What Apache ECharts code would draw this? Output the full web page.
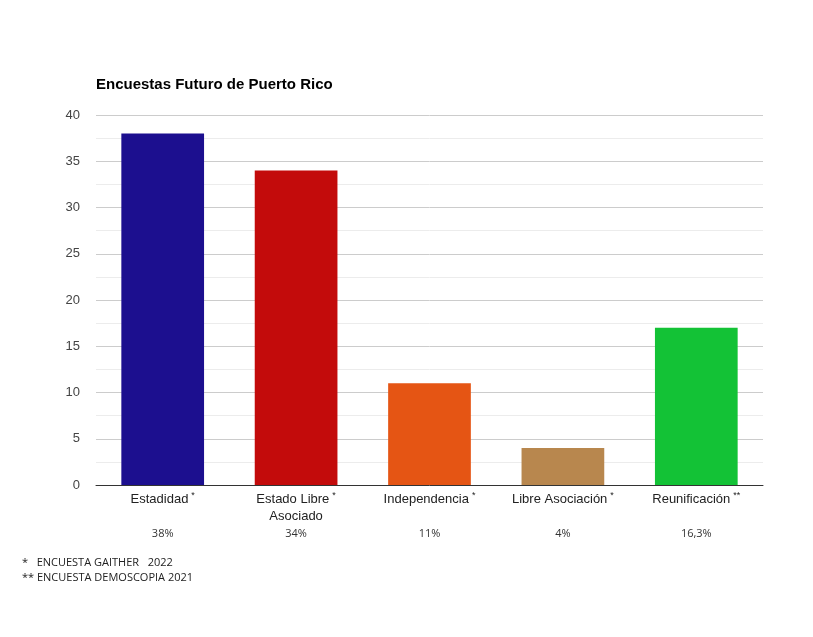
<!DOCTYPE html>
<html><head><meta charset="utf-8">
<script src="https://cdn.jsdelivr.net/npm/echarts@6/dist/echarts.min.js"></script>
<style>html,body{margin:0;padding:0;background:#fff}#c{width:813px;height:637px}</style>
</head><body><div id="c"></div>
<script>
const categories = ['Estadidad', 'Estado Libre\nAsociado', 'Independencia', 'Libre Asociación', 'Reunificación'];
const marks = ['*', '*', '*', '*', '**'];
const values = [38, 34, 11, 4, 17];
const percentLabels = ['38%', '34%', '11%', '4%', '16,3%'];
const colors = ['#1c0f8f', '#c30b0b', '#e55514', '#b8874e', '#13c236'];
const notes = ['*   ENCUESTA GAITHER   2022', '** ENCUESTA DEMOSCOPIA 2021'];

const chart = echarts.init(document.getElementById('c'));
chart.setOption({
  backgroundColor: '#fff',
  animation: false,
  title: { text: 'Encuestas Futuro de Puerto Rico', left: 91, top: 72,
    textStyle: { fontFamily: 'Arial', fontSize: 15, fontWeight: 'bold', color: '#000' } },
  grid: { left: 96, right: 50, top: 115, bottom: 152 },
  xAxis: [{
    type: 'category', data: categories,
    axisLine: { lineStyle: { color: '#333', width: 1 } },
    axisTick: { show: false },
    axisLabel: { margin: 6, interval: 0,
      formatter: (v, i) => {
        const parts = v.split('\n');
        return parts.map((p, k) => k === 0 ? '{n|' + p + '}{s|' + marks[i] + '}' : '{n|' + p + '}').join('\n');
      },
      rich: {
        n: { fontFamily: 'Arial', fontSize: 13, color: '#222', lineHeight: 17 },
        s: { fontFamily: 'Arial', fontSize: 9, color: '#222', verticalAlign: 'top', padding: [0, 0, 8, 3], lineHeight: 17 }
      } }
  }, {
    type: 'category', data: percentLabels, position: 'bottom', offset: 35,
    axisLine: { show: false }, axisTick: { show: false },
    axisLabel: { interval: 0, fontFamily: 'Open Sans', fontSize: 11, color: '#333' }
  }],
  yAxis: {
    type: 'value', min: 0, max: 40, interval: 5,
    axisLine: { show: false }, axisTick: { show: false },
    axisLabel: { fontFamily: 'Arial', fontSize: 13, color: '#444', margin: 16 },
    splitLine: { lineStyle: { color: '#cccccc' } },
    minorTick: { show: false, splitNumber: 2 },
    minorSplitLine: { show: true, lineStyle: { color: '#ececec' } }
  },
  series: [{
    type: 'bar', xAxisIndex: 0, barWidth: '62%',
    data: values.map((v, i) => ({ value: v, itemStyle: { color: colors[i] } }))
  }],
  graphic: notes.map((t, i) => ({
    type: 'text', left: 22, top: 557 + i * 15,
    style: { text: t, fontFamily: 'Open Sans', fontSize: 11, fill: '#222' }
  }))
});
</script></body></html>
